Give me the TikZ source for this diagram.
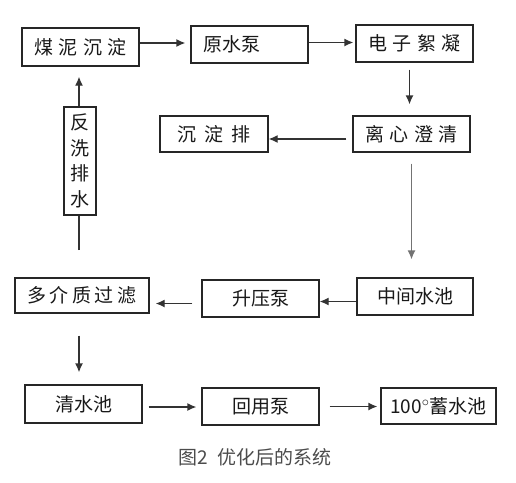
\documentclass[tikz,border=0pt]{standalone}
\usepackage{fontspec}
\newfontfamily\cjk{Noto Sans CJK SC}
\usetikzlibrary{arrows.meta}
\newcommand{\gp}{\hspace{5.5pt}}
\begin{document}
\begin{tikzpicture}[x=1pt,y=-1pt,
  box/.style={draw=black!85, line width=1.3pt, inner sep=0pt, font=\cjk\fontsize{19}{22}\selectfont, text=black!90},
  ln/.style={draw=black!80, line width=1.3pt},
  arr/.style={ln, -{Latex[length=9pt,width=8pt]}}]
\useasboundingbox[fill=white] (0,0) rectangle (516,482);
\node[box, minimum width=117, minimum height=38] (a) at (80.5,47) {煤\gp 泥\gp 沉\gp 淀};
\node[box, minimum width=117, minimum height=37, text width=93, align=left] (b) at (249.5,44.5) {原水泵};
\node[box, minimum width=117, minimum height=37] (c) at (414.5,43.5) {电\gp 子\gp 絮\gp 凝};
\node[box, minimum width=108, minimum height=36] (d) at (214,134) {沉\hspace{8pt}淀\hspace{8pt}排};
\node[box, minimum width=117, minimum height=36] (e) at (411.5,134) {离\gp 心\gp 澄\gp 清};
\node[box, minimum width=32, minimum height=108, align=center, font=\cjk\fontsize{19}{25.5}\selectfont] (f) at (80,161) {反\\洗\\排\\水};
\node[box, minimum width=134, minimum height=35] (g) at (82,295.5) {多\hspace{3.5pt}介\hspace{3.5pt}质\hspace{3.5pt}过\hspace{3.5pt}滤};
\node[box, minimum width=117, minimum height=37] (h) at (260.5,298.5) {升压泵};
\node[box, minimum width=116, minimum height=37] (i) at (415,296.5) {中间水池};
\node[box, minimum width=117, minimum height=38] (j) at (83.5,404) {清水池};
\node[box, minimum width=117, minimum height=37] (k) at (260.5,406.5) {回用泵};
\node[box, minimum width=115, minimum height=36] (l) at (438.5,406) {100$^{\circ}$蓄水池};
\node[font=\cjk\fontsize{19}{22}\selectfont, text=black!70] (cap) at (255,457) {图2\hspace{9pt}优化后的系统};
\coordinate (fw) at (79,250);
% connectors
\draw[arr, shorten >=5pt] ([yshift=4pt]a.east) -- ([yshift=4pt]a.east -| b.west);
\draw[arr, shorten >=2pt] ([yshift=2pt]b.east) -- ([yshift=2pt]b.east -| c.west);
\draw[arr, shorten <=7pt, shorten >=11pt] ([xshift=-5pt]c.south) -- ([xshift=-5pt]c.south |- e.north);
\draw[arr, shorten <=6pt] ([yshift=-5pt]e.west) -- ([yshift=-5pt]e.west -| d.east);
\draw[arr, black!55, shorten <=11pt, shorten >=18pt] (e.south) -- (e.south |- i.north);
\draw[arr] ([yshift=-5pt]i.west) -- ([yshift=-5pt]i.west -| h.east);
\draw[arr, shorten <=9pt, shorten >=6pt] ([yshift=-5pt]h.west) -- ([yshift=-5pt]h.west -| g.east);
\draw[arr, shorten <=22pt, shorten >=12pt] ([xshift=-3pt]g.south) -- ([xshift=-3pt]g.south |- j.north);
\draw[arr, shorten <=6pt, shorten >=5pt] ([yshift=-3pt]j.east) -- ([yshift=-3pt]j.east -| k.west);
\draw[arr, shorten <=10pt, shorten >=3pt] (k.east) -- (k.east -| l.west);
\draw[ln] (fw) -- ([xshift=-1pt]f.south);
\draw[arr, shorten >=10pt] ([xshift=-1pt]f.north) -- ([xshift=-1pt]f.north |- a.south);
\end{tikzpicture}
\end{document}
